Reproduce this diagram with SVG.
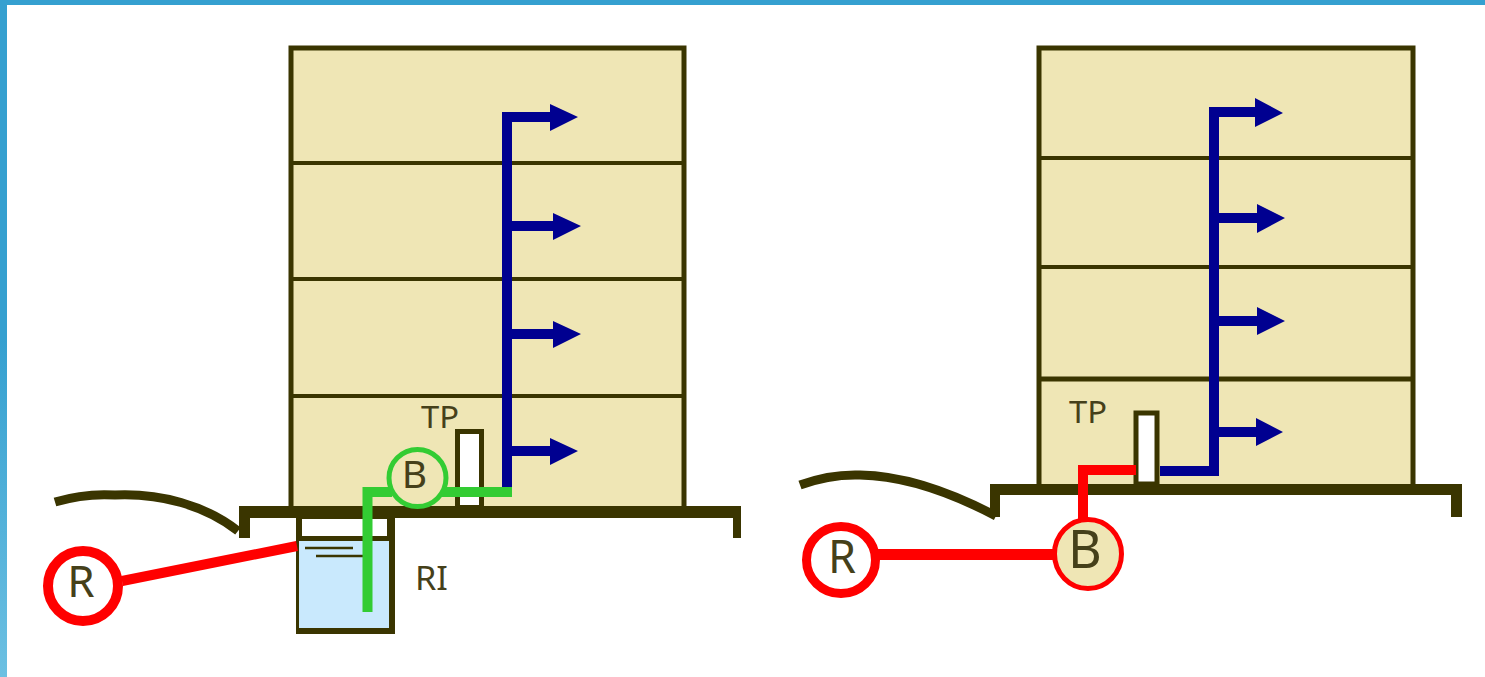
<svg xmlns="http://www.w3.org/2000/svg" width="1485" height="677" viewBox="0 0 1485 677">
<style>
.t{font-family:"Noto Sans","Open Sans",sans-serif;fill:#45401a}
.ol{fill:none;stroke:#3a3500}
.gr{fill:#3a3500}
.bld{fill:#efe6b5;stroke:#3a3500;stroke-width:5}
.fl{stroke:#3a3500;stroke-width:4;fill:none}
.b{stroke:#000090;stroke-width:10;fill:none}
.ba{fill:#000090}
.r{stroke:#ff0000;fill:none}
.g{stroke:#33cc33;fill:none}
</style>
<defs>
<linearGradient id="edge" x1="0" y1="0" x2="0" y2="1"><stop offset="0" stop-color="#35a0d0"/><stop offset="0.5" stop-color="#35a0d0"/><stop offset="1" stop-color="#6cc0e2"/></linearGradient>
</defs>
<rect width="1485" height="677" fill="#fff"/>
<rect id="frame-left" width="7" height="677" fill="url(#edge)"/>
<rect id="frame-top" width="1485" height="5" fill="#35a0d0"/>

<g id="building-left">
<rect class="bld" x="291" y="48" width="393" height="462"/>
<path class="fl" d="M291 163H684M291 279H684M291 396H684"/>
</g>
<g id="ground-left">
<path class="ol" stroke-width="9" d="M55 502Q85 493 115 495C160 493 205 505 238 531"/>
<path class="gr" d="M239 506H741V538H733V518H250V538H239Z"/>
</g>
<g id="tank-left">
<path class="gr" d="M296 516H395V634H296Z"/>
<rect x="302" y="519" width="85" height="17" fill="#fff"/>
<rect x="299" y="541" width="90" height="87" fill="#c9e9fd"/>
<path stroke="#3a3500" stroke-width="2.5" fill="none" d="M305 548H353M316 556H364"/>
<text class="t" x="415" y="590" font-size="32" textLength="33" lengthAdjust="spacingAndGlyphs">RI</text>
</g>
<g id="tp-left">
<rect x="457.5" y="431.500" width="24" height="76" fill="#fff" stroke="#3a3500" stroke-width="5"/>
<text class="t" x="421" y="428" font-size="30" textLength="38" lengthAdjust="spacingAndGlyphs">TP</text>
</g>
<g id="connectors-left">
<path class="b" d="M507 488V117H555"/>
<path class="b" d="M507 226H558M507 334H558M507 451H555"/>
<path class="ba" d="M550 104L578 117L550 131ZM553 213L581 226L553 240ZM553 321L581 334L553 348ZM550 438L578 451L550 465Z"/>
<path class="g" stroke-width="10" d="M367.500 612V492H392"/>
<path class="g" stroke-width="10" d="M441 492H512"/>
<path class="r" stroke-width="10" d="M122 581L297 546"/>
</g>
<g id="pump-left">
<circle cx="417.500" cy="478" r="28.500" fill="#efe6b5" stroke="#33cc33" stroke-width="5"/>
<text class="t" x="414.500" y="488" font-size="39" text-anchor="middle">B</text>
</g>
<g id="reservoir-left">
<circle cx="83" cy="586" r="35" fill="#fff" stroke="#ff0000" stroke-width="10"/>
<text class="t" x="81" y="597" font-size="44" text-anchor="middle">R</text>
</g>

<g id="building-right">
<rect class="bld" x="1039" y="48" width="374" height="441"/>
<path class="fl" d="M1039 158H1413M1039 267H1413"/>
<path class="ol" stroke-width="5" d="M1039 379H1413"/>
</g>
<g id="ground-right">
<path class="ol" stroke-width="9" d="M800 485Q830 474 860 475Q920 476 996 516"/>
<path class="gr" d="M990 484H1462V517H1451V495H1000V517H990Z"/>
</g>
<g id="tp-right">
<rect x="1136" y="413" width="21" height="71" fill="#fff" stroke="#3a3500" stroke-width="5"/>
<text class="t" x="1069" y="423" font-size="30" textLength="38" lengthAdjust="spacingAndGlyphs">TP</text>
</g>
<g id="connectors-right">
<path class="b" d="M1160 471H1214V112H1260"/>
<path class="b" d="M1214 218H1262M1214 321H1262M1214 432H1260"/>
<path class="ba" d="M1255 98L1283 113L1255 127ZM1257 204L1285 218L1257 233ZM1257 307L1285 321L1257 335ZM1256 418L1283 432L1256 446Z"/>
<path class="r" stroke-width="10" d="M1136 470H1083V522"/>
<path class="r" stroke-width="11" d="M878 554.500H1055"/>
</g>
<g id="pump-right">
<ellipse cx="1088" cy="554" rx="33.500" ry="34.500" fill="#efe6b5" stroke="#ff0000" stroke-width="5"/>
<text class="t" x="1085" y="568" font-size="52" text-anchor="middle">B</text>
</g>
<g id="reservoir-right">
<ellipse cx="841" cy="560" rx="34.500" ry="33.500" fill="#fff" stroke="#ff0000" stroke-width="9"/>
<text class="t" x="842" y="573" font-size="45" text-anchor="middle">R</text>
</g>
</svg>
